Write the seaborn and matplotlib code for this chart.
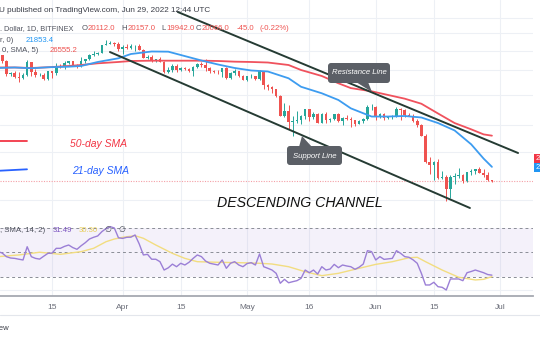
import matplotlib
matplotlib.use("Agg")
import matplotlib.pyplot as plt
import seaborn as sns
import pandas as pd
from matplotlib.transforms import Affine2D
from matplotlib.patches import FancyBboxPatch, Polygon, Rectangle
from matplotlib.lines import Line2D

sns.set_theme(style="white")
plt.rcParams["font.family"] = ["Liberation Sans", "DejaVu Sans"]

# ---------------- data (day 0 = 1 Mar 2022) ----------------
days = list(range(121))
opens = [43190, 44420, 43930, 42450, 39150, 39400, 38420, 38060, 38740, 41980, 39440, 38790, 38810, 37780, 39670, 39280,
         41110, 40920, 41770, 42250, 41260, 41000, 42370, 42890, 43960, 44350, 44500, 46820, 47130, 47460, 47070,
         45530, 46280, 45810, 46410, 46580, 45500, 43170, 43440, 42250, 42750, 42160, 39530, 40080, 41150, 39940,
         40550, 40400, 39720, 40830, 41500, 41370, 40480, 39710, 39470, 39450, 40430, 38110, 39240, 39740, 38600,
         37640, 38470, 38530, 37750, 39690, 36550, 36010, 35470, 34060, 30100, 31010, 28940, 29030, 29290, 30100,
         31330, 29850, 30450, 28700, 30320, 29200, 29440, 30320, 29110, 29650, 29540, 29200, 28630, 29030, 29470, 31740,
         31800, 29800, 30450, 29700, 29860, 29910, 31370, 31130, 30200, 30110, 29090, 28420, 26580, 22490, 22140,
         22580, 20380, 20470, 19010, 20560, 20580, 20720, 19970, 21100, 21230, 21500, 21030, 20730, 20112]
highs = [44950, 45380, 44080, 42510, 39630, 39690, 39430, 39370, 42600, 42050, 40250, 39360, 39300, 39900, 39860, 41710,
         41470, 42320, 42400, 42300, 41540, 43350, 43000, 44200, 45100, 44800, 46900, 48190, 48100, 47700, 47600,
         46700, 47200, 47000, 46880, 47200, 45510, 43900, 43950, 42800, 43400, 42400, 40680, 41540, 41500, 40860,
         40700, 40600, 41100, 41760, 42180, 42950, 40800, 39990, 39910, 40600, 40800, 39450, 40350, 39900, 38800,
         38650, 39150, 38630, 39950, 39840, 36650, 36140, 35500, 34260, 32660, 32170, 30050, 30980, 30300, 31430,
         31330, 30760, 30670, 30540, 30730, 29600, 30440, 30640, 29850, 30200, 29900, 29360, 29220, 29580, 32200, 32390,
         31970, 30640, 30680, 29950, 30160, 31750, 31560, 31320, 30690, 30360, 29450, 28560, 26900, 23300, 22700,
         22980, 21350, 20760, 20800, 21000, 21700, 20860, 21200, 21520, 21580, 21850, 21520, 21190, 20157]
lows = [42870, 43330, 41850, 38600, 38610, 38090, 37160, 37870, 38660, 38550, 38240, 38660, 37590, 37580, 38120, 38860,
        40540, 40180, 41530, 40930, 40500, 40900, 41820, 42600, 43600, 44080, 44420, 46670, 46950, 46550, 45200,
        44250, 45650, 45550, 45140, 45380, 43100, 42760, 42120, 42130, 42000, 39220, 39250, 39560, 39560, 39770,
        40000, 39570, 38550, 40580, 40900, 39750, 39190, 39300, 39020, 38200, 37900, 37880, 38870, 38200, 37580,
        37400, 38050, 37520, 37700, 35600, 35270, 34780, 33720, 30050, 29750, 27700, 26500, 28720, 28640, 29500,
        29100, 29440, 28680, 28690, 28730, 28950, 29260, 28870, 28300, 29350, 28000, 28290, 28570, 28820, 29330, 31230,
        29320, 29580, 29350, 29480, 29490, 29890, 29240, 29860, 29960, 28880, 28120, 26480, 22400, 20850, 20110,
        20270, 20310, 17600, 17950, 19650, 20350, 19780, 19920, 20760, 20930, 21000, 20520, 20020, 19942]
closes = [44420, 43930, 42450, 39150, 39400, 38420, 38060, 38740, 41980, 39440, 38790, 38810, 37780, 39670, 39280, 41110,
          40920, 41770, 42250, 41260, 41000, 42370, 42890, 43960, 44350, 44500, 46820, 47130, 47460, 47070, 45530,
          46280, 45810, 46410, 46580, 45500, 43170, 43440, 42250, 42750, 42160, 39530, 40080, 41150, 39940, 40550,
          40400, 39720, 40830, 41500, 41370, 40480, 39710, 39470, 39450, 40430, 38110, 39240, 39740, 38600, 37640,
          38470, 38530, 37750, 39690, 36550, 36010, 35470, 34060, 30100, 31010, 28940, 29030, 29290, 30100, 31330,
          29850, 30450, 28700, 30320, 29200, 29440, 30320, 29110, 29650, 29540, 29200, 28630, 29030, 29470, 31740, 31800,
          29800, 30450, 29700, 29860, 29910, 31370, 31130, 30200, 30110, 29090, 28420, 26580, 22490, 22140, 22580,
          20380, 20470, 19010, 20560, 20580, 20720, 19970, 21100, 21230, 21500, 21030, 20730, 20111, 20066]

sma_days = [1, 5, 9, 13, 18, 21, 25, 30, 33, 38, 42, 45, 50, 54, 58, 62, 66, 71, 74, 79, 83, 86, 91, 95, 99,
            103, 107, 111, 115, 118, 120]
sma21 = [40540, 40670, 40470, 40720, 40870, 41050, 42090, 43070, 44240, 44940, 44890, 43970, 42480, 41430, 40540,
         39910, 39660, 38010, 36050, 34610, 33190, 31500, 29930, 29930, 30030, 29750, 28740, 27440, 25160, 23010, 21853]
sma50 = [40670, 40670, 40540, 40720, 41050, 41300, 41740, 42090, 42350, 42430, 42430, 42430, 42430, 42350, 42170,
         42090, 41950, 41300, 40030, 38560, 36840, 35750, 35040, 34240, 33460, 32420, 30510, 28740, 27630, 26770, 26555]

rsi_days = list(range(1, 121))
rsi = [50.7, 49.5, 46.6, 45.5, 45.2, 44.5, 43.9, 54.7, 46.6, 45.2, 44.6, 47.0, 49.3, 49.5, 53.4, 53.4, 55.0, 56.1,
       54.0, 52.6, 55.5, 58.0, 61.0, 62.4, 63.5, 67.0, 69.5, 71.1, 70.0, 62.0, 61.5, 62.4, 62.5, 64.3, 57.0, 48.0,
       48.5, 44.5, 44.5, 42.5, 35.7, 37.5, 40.5, 38.4, 41.2, 39.8, 42.0, 45.2, 48.0, 46.6, 43.0, 41.2, 40.5, 39.8,
       43.9, 37.1, 41.2, 42.5, 39.8, 38.4, 41.0, 41.7, 39.8, 48.8, 38.4, 37.1, 35.7, 33.0, 24.9, 28.1, 25.3, 26.2,
       27.0, 28.9, 35.7, 33.5, 35.7, 32.4, 38.4, 35.7, 36.5, 40.3, 37.6, 39.8, 39.0, 38.4, 36.3, 38.0, 40.6, 51.5,
       50.7, 43.9, 46.6, 44.4, 44.8, 45.2, 51.5, 49.3, 46.6, 46.1, 44.0, 41.2, 33.0, 23.5, 23.5, 25.7, 22.1, 21.6,
       19.4, 28.4, 28.4, 28.4, 27.0, 33.5, 34.5, 35.7, 34.6, 33.5, 32.0, 31.5]
rsi_sma_days = [1, 6, 11, 16, 21, 24, 27, 29, 31, 34, 36, 39, 43, 46, 49, 54, 59, 64, 67, 71, 75, 79, 83, 87, 92,
                96, 100, 102, 104, 108, 112, 116, 118, 120]
rsi_sma = [46.6, 48.0, 50.2, 48.5, 50.7, 53.4, 58.8, 61.0, 62.4, 63.7, 61.6, 56.1, 49.3, 45.2, 42.5, 42.0, 41.7,
           41.2, 40.6, 38.4, 34.3, 31.1, 33.0, 36.3, 40.3, 42.5, 45.7, 46.1, 42.5, 35.7, 29.8, 27.6, 28.1, 30.3]

resistance_days = [44.3, 126.3]
resistance_prices = [57520, 23830]
support_days = [27.95, 114.7]
support_prices = [44790, 16900]

tick_days = [0, 14, 31, 45, 61, 76, 92, 106, 122]
tick_labels = ["Mar", "15", "Apr", "15", "May", "16", "Jun", "15", "Jul"]
grid_prices = [55400, 50450, 45080, 40020, 34245, 28385, 23980, 17765]
last_close = 20066

# ---------------- figure ----------------
W, H = 540, 340
fig = plt.figure(figsize=(5.4, 3.4), dpi=100)
fig.patch.set_facecolor("white")
PIX = Affine2D().scale(1 / W, -1 / H).translate(0, 1) + fig.transFigure


def rect(x0, y0, x1, y1):
    return [x0 / W, 1 - y1 / H, (x1 - x0) / W, (y1 - y0) / H]


ax = fig.add_axes(rect(0, 0, 533, 221))
axr = fig.add_axes(rect(0, 221, 533, 296), sharex=ax)
for a in (ax, axr):
    a.set_facecolor("none")
    for s in a.spines.values():
        s.set_visible(False)
    a.tick_params(left=False, labelleft=False, bottom=False)

GREEN, RED = "#26a69a", "#ef5350"
GRID = "#edf0f5"

ax.set_yscale("log")
ax.set_ylim(15580, 62000)
ax.set_xlim(1.45, 129.9)
ax.minorticks_off()
ax.set_yticks([])
for p in grid_prices:
    ax.axhline(p, color=GRID, lw=0.8, zorder=0)
for d in tick_days:
    ax.axvline(d, color=GRID, lw=0.8, zorder=0)
    axr.axvline(d, color=GRID, lw=0.8, zorder=0)

df = pd.DataFrame({"day": days, "open": opens, "high": highs, "low": lows, "close": closes})
df["up"] = df["close"] >= df["open"]
cols = [GREEN if u else RED for u in df["up"]]
ax.vlines(df["day"], df["low"], df["high"], colors=cols, lw=0.7, zorder=3)
bottoms = df[["open", "close"]].min(axis=1)
heights = (df["close"] - df["open"]).abs().clip(lower=bottoms * 0.0025)
ax.bar(df["day"], heights, bottom=bottoms, width=0.62, color=cols, linewidth=0, zorder=4)

sns.lineplot(x=sma_days, y=sma50, ax=ax, color="#f0525d", lw=1.3, zorder=5)
sns.lineplot(x=sma_days, y=sma21, ax=ax, color="#3d9cf0", lw=1.3, zorder=5)
ax.axhline(last_close, color="#f4a0a6", lw=0.8, ls=(0, (1, 1.3)), zorder=2)

ax.plot(resistance_days, resistance_prices, color="#253b33", lw=1.4, zorder=6, solid_capstyle="round")
ax.plot(support_days, support_prices, color="#253b33", lw=1.4, zorder=6, solid_capstyle="round")
ax.set_xlabel("")
ax.set_ylabel("")
ax.tick_params(labelbottom=False)

# RSI panel
axr.set_ylim(14.5, 75.7)
axr.set_yticks([])
axr.axhspan(30, 70, color="#7e57c2", alpha=0.08, lw=0, zorder=0)
axr.axhline(19.4, color=GRID, lw=0.8, zorder=0)
for lvl in (70, 50, 30):
    axr.axhline(lvl, color="#8a8d96", lw=0.7, ls=(0, (3, 3)), zorder=1)
sns.lineplot(x=rsi_sma_days, y=rsi_sma, ax=axr, color="#f2dd80", lw=1.0, zorder=3)
sns.lineplot(x=rsi_days, y=rsi, ax=axr, color="#9b7fd6", lw=1.0, zorder=4)
axr.set_xlabel("")
axr.set_ylabel("")
axr.spines["bottom"].set_visible(True)
axr.spines["bottom"].set_color("#a6a9b1")
axr.spines["bottom"].set_linewidth(1.3)
axr.set_xticks(tick_days)
axr.set_xticklabels(tick_labels)
axr.tick_params(axis="x", length=0, pad=6, labelsize=6, labelcolor="#6a6d78")
ax.set_xlim(1.45, 129.9)

# ---------------- overlays in pixel space ----------------
def T(x, y, s, **kw):
    base = dict(transform=PIX, fontsize=5.6, va="center", ha="left", color="#50535e")
    base.update(kw)
    fig.text(x, y, s, **base)


fig.add_artist(Line2D([0, 540], [315, 315], transform=PIX, color="#e3e6ec", lw=0.8))
T(-1, 10, "U published on TradingView.com, Jun 29, 2022 12:44 UTC", color="#3b3e48", fontsize=5.9)
T(0, 29, ". Dollar, 1D, BITFINEX", fontsize=5.3)
hdr = [(81.5, "O", "#50535e"), (88, "20112.0", RED), (121, "H", "#50535e"), (127.5, "20157.0", RED),
       (161.5, "L", "#50535e"), (166.5, "19942.0", RED), (195.5, "C", "#50535e"), (202, "20066.0", RED),
       (237, "-45.0", RED), (259, "(-0.22%)", RED)]
for x, s, c in hdr:
    T(x, 29, s, color=c)
T(0, 41, "r, 0)")
T(26, 41, "21853.4", color="#2196f3")
T(2, 51, "0, SMA, 5)")
T(50, 51, "26555.2", color=RED)
T(0, 231, ", SMA, 14, 2)")
T(53, 231, "31.49", color="#7e57c2")
T(79, 231, "30.30", color="#e8cf5a")
T(104, 231, "\u2205", color="#50535e")
T(118, 231, "\u2205", color="#50535e")
T(10, 328, "View", ha="right", color="#3b3e48")

# SMA labels on the left
fig.add_artist(Line2D([0, 27], [141, 141], transform=PIX, color="#f23645", lw=1.3))
fig.add_artist(Line2D([0, 27], [170.7, 169.3], transform=PIX, color="#2962ff", lw=1.3))
T(70, 144, "50-day SMA", color="#f23645", fontsize=7.5, style="italic")
T(72, 171.5, "21-day SMA", color="#2962ff", fontsize=7.5, style="italic")

# Descending channel title
fig.text(299.5, 203, "DESCENDING CHANNEL", transform=PIX, ha="center", va="center", fontsize=10.2,
         style="italic", color="#111111")

# callouts
BOX = "#5b5f66"
fig.add_artist(FancyBboxPatch((328, 63), 62, 20, boxstyle="round,pad=0,rounding_size=3", transform=PIX,
                              facecolor=BOX, edgecolor="none", zorder=10))
fig.add_artist(Polygon([(356, 82), (368, 82), (372, 92)], closed=True, transform=PIX, facecolor=BOX,
                       edgecolor="none", zorder=10))
T(359, 73, "Resistance Line", ha="center", color="white", fontsize=5.6, style="italic", zorder=11)
fig.add_artist(FancyBboxPatch((287, 146), 55, 19, boxstyle="round,pad=0,rounding_size=3", transform=PIX,
                              facecolor=BOX, edgecolor="none", zorder=10))
fig.add_artist(Polygon([(299, 147), (312, 147), (302, 136)], closed=True, transform=PIX, facecolor=BOX,
                       edgecolor="none", zorder=10))
T(314.5, 156, "Support Line", ha="center", color="white", fontsize=5.6, style="italic", zorder=11)

# price tags at right edge
fig.add_artist(Rectangle((534, 154), 8, 9, transform=PIX, facecolor="#f23645", edgecolor="none"))
fig.add_artist(Rectangle((534, 163), 8, 9, transform=PIX, facecolor="#2196f3", edgecolor="none"))
T(536, 158.5, "26555.2", color="white", fontsize=5.5)
T(536, 167.5, "21853.4", color="white", fontsize=5.5)

fig.savefig("out.png", dpi=100, facecolor="white")
